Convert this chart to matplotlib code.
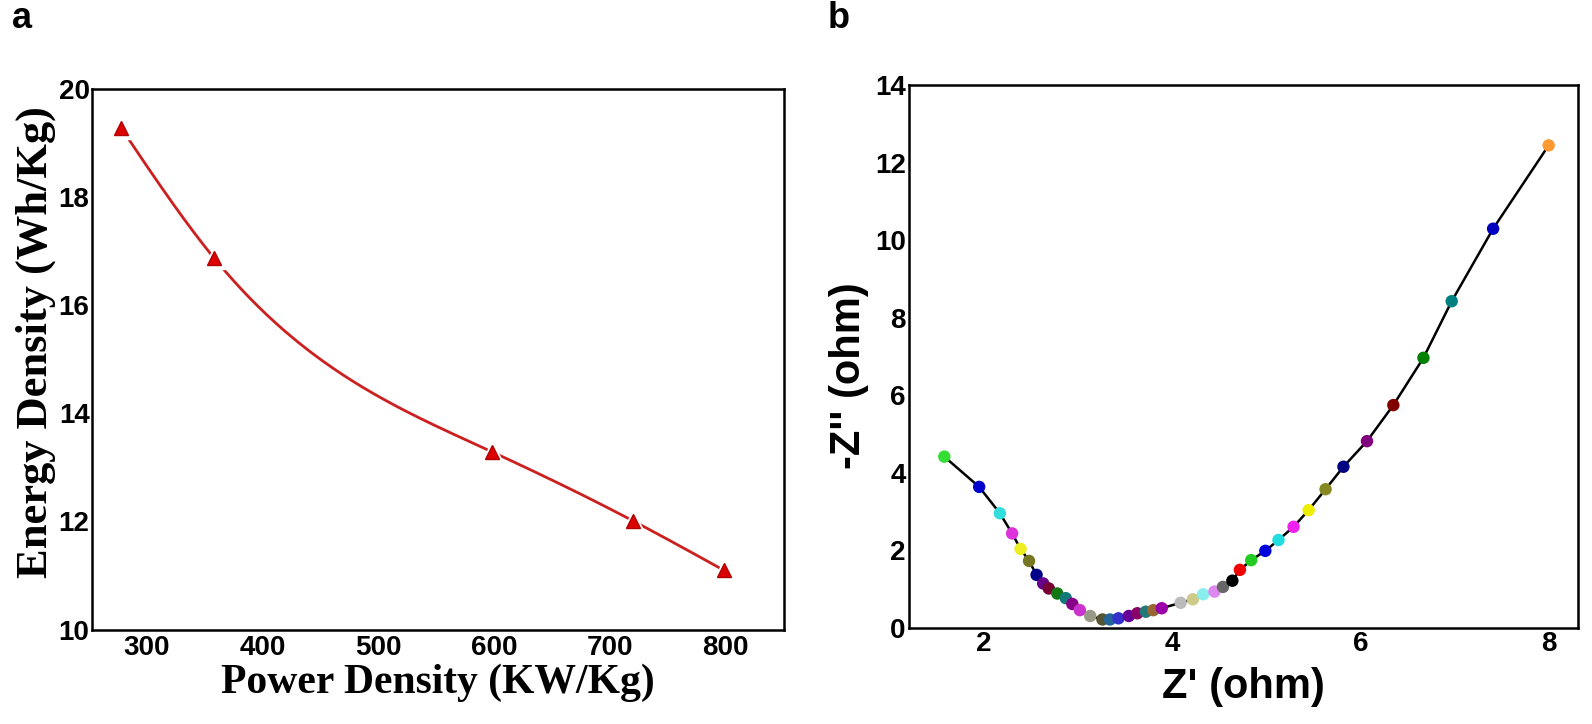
import numpy as np
import matplotlib
matplotlib.use('Agg')
import matplotlib.pyplot as plt

# panel a: energy density vs power density
power = [278, 358, 598, 720, 798]
energy = [19.28, 16.88, 13.29, 12.01, 11.10]
a_xticks = [300, 400, 500, 600, 700, 800]
a_yticks = [10, 12, 14, 16, 18, 20]

# panel b: Nyquist plot
z_re = [1.58, 1.95, 2.17, 2.30, 2.39, 2.48, 2.56, 2.63, 2.69, 2.78, 2.87, 2.94,
        3.02, 3.13, 3.26, 3.34, 3.43, 3.54, 3.63, 3.72, 3.80, 3.89, 4.09, 4.22,
        4.33, 4.45, 4.54, 4.64, 4.72, 4.84, 4.99, 5.13, 5.29, 5.45, 5.63, 5.82,
        6.07, 6.35, 6.67, 6.97, 7.41, 8.00]
z_im = [4.42, 3.64, 2.96, 2.44, 2.04, 1.73, 1.37, 1.15, 1.02, 0.89, 0.77, 0.62,
        0.46, 0.31, 0.22, 0.22, 0.25, 0.31, 0.38, 0.42, 0.46, 0.51, 0.65, 0.74,
        0.87, 0.94, 1.06, 1.22, 1.50, 1.75, 1.99, 2.27, 2.61, 3.04, 3.58, 4.16,
        4.82, 5.75, 6.97, 8.43, 10.30, 12.45]
pt_colors = ['#33dd33', '#0000cc', '#33dddd', '#dd33dd', '#eeee22', '#777722',
             '#000088', '#660088', '#770033', '#117711', '#117777', '#880088',
             '#cc33cc', '#999988', '#555533', '#226699', '#3333cc', '#660099',
             '#880066', '#227777', '#996633', '#9900aa', '#bbbbbb', '#cccc88',
             '#88eeee', '#dd88ee', '#666666', '#000000', '#ee0000', '#22cc22',
             '#0000dd', '#22dddd', '#ee22ee', '#eeee00', '#888822', '#000080',
             '#800080', '#800000', '#008000', '#008080', '#0000c0', '#ff9933']
b_xticks = [2, 4, 6, 8]
b_yticks = [0, 2, 4, 6, 8, 10, 12, 14]


def natural_spline(x, y, n=300):
    # smooth curve through the points, like the original line
    x = np.asarray(x, float); y = np.asarray(y, float)
    h = np.diff(x); k = len(x)
    A = np.zeros((k, k)); r = np.zeros(k)
    A[0, 0] = A[-1, -1] = 1
    for i in range(1, k - 1):
        A[i, i-1] = h[i-1]; A[i, i] = 2*(h[i-1] + h[i]); A[i, i+1] = h[i]
        r[i] = 3*((y[i+1] - y[i])/h[i] - (y[i] - y[i-1])/h[i-1])
    c = np.linalg.solve(A, r)
    b = (y[1:] - y[:-1])/h - h*(2*c[:-1] + c[1:])/3
    d = (c[1:] - c[:-1])/(3*h)
    xs = np.linspace(x[0], x[-1], n)
    i = np.clip(np.searchsorted(x, xs) - 1, 0, k - 2)
    dx = xs - x[i]
    return xs, y[i] + b[i]*dx + c[i]*dx**2 + d[i]*dx**3


sans = 'Liberation Sans'
serif = 'Liberation Serif'

fig = plt.figure(figsize=(15.92, 7.24), dpi=100)

# ---- panel a
ax1 = fig.add_axes([0.0580, 0.1305, 0.4343, 0.7461])
xs, ys = natural_spline(power, energy)
ax1.plot(xs, ys, color='#cc2020', lw=2.0, zorder=2)
ax1.plot(power, energy, '^', color='white', ms=16, zorder=3)
ax1.plot(power, energy, '^', color='#dd0000', mec='#b00000', ms=10.5, zorder=4)
ax1.set_xlim(253, 850)
ax1.set_ylim(10, 20)
ax1.set_xticks(a_xticks)
ax1.set_yticks(a_yticks)
ax1.set_xlabel('Power Density (KW/Kg)', fontsize=30, fontweight='bold', family=serif)
ax1.set_ylabel('Energy Density (Wh/Kg)', fontsize=32, fontweight='bold', family=serif)
ax1.xaxis.label.set_va('center')
ax1.yaxis.label.set_va('center')
ax1.xaxis.set_label_coords(0.5, -0.099)
ax1.yaxis.set_label_coords(-0.082, 0.532)

# ---- panel b
ax2 = fig.add_axes([0.5707, 0.1326, 0.4204, 0.7496])
ax2.plot(z_re, z_im, color='black', lw=1.8, zorder=2)
ax2.scatter(z_re, z_im, c=pt_colors, s=80, zorder=3, edgecolors='none')
ax2.set_xlim(1.20, 8.31)
ax2.set_ylim(0, 14)
ax2.set_xticks(b_xticks)
ax2.set_yticks(b_yticks)
ax2.set_xlabel("Z' (ohm)", fontsize=30, fontweight='bold', family=sans)
ax2.set_ylabel("-Z'' (ohm)", fontsize=30, fontweight='bold', family=sans)
ax2.xaxis.label.set_va('center')
ax2.yaxis.label.set_va('center')
ax2.xaxis.set_label_coords(0.5, -0.108)
ax2.yaxis.set_label_coords(-0.0889, 0.465)

for ax, xpad in ((ax1, 4), (ax2, 2)):
    for s in ax.spines.values():
        s.set_linewidth(1.8)
    ax.tick_params(length=0, labelsize=20)
    ax.tick_params(axis='y', pad=2)
    ax.tick_params(axis='x', pad=xpad)
    for lab in ax.get_xticklabels() + ax.get_yticklabels():
        lab.set_fontweight('bold')
        lab.set_family(sans)

fig.text(22.3/1592, 1 - 19/724, 'a', fontsize=26, fontweight='bold', family=sans,
         ha='center', va='center')
fig.text(838.6/1592, 1 - 19/724, 'b', fontsize=26, fontweight='bold', family=sans,
         ha='center', va='center')

fig.savefig('out.png', dpi=100)
